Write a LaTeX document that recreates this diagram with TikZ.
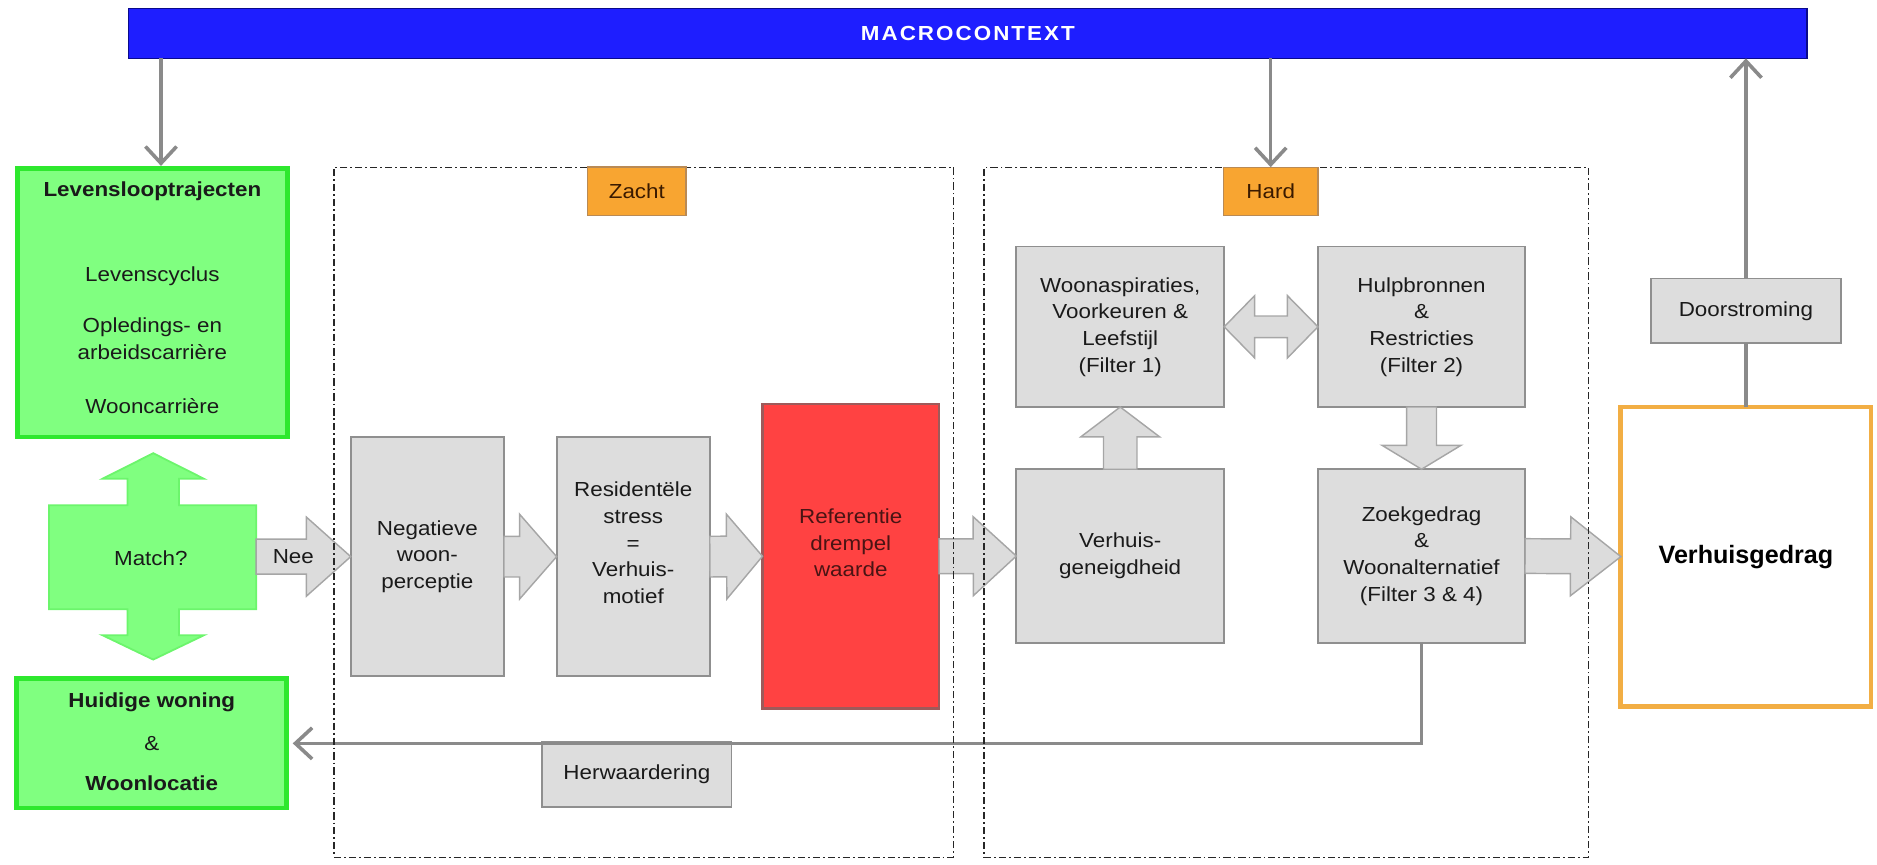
\documentclass[tikz,border=0pt]{standalone}
\usepackage{fontspec}
\setmainfont{Liberation Sans}[FakeStretch=1.1]
\newfontfamily\plainfont{Liberation Sans}
\newfontfamily\macrofont{Liberation Sans}[FakeStretch=1.1,LetterSpace=10]
\usetikzlibrary{arrows.meta,calc}
\definecolor{txtc}{HTML}{1A1A1A}
\definecolor{gfill}{HTML}{DDDDDD}
\definecolor{gborder}{HTML}{8F8F8F}
\definecolor{afill}{HTML}{DCDCDC}
\definecolor{aborder}{HTML}{A6A6A6}
\definecolor{connc}{HTML}{8A8A8A}
\definecolor{greenfill}{HTML}{80FF80}
\definecolor{greenborder}{HTML}{2EE82E}
\definecolor{crossborder}{HTML}{6CF56C}
\definecolor{redfill}{HTML}{FF4242}
\definecolor{redborder}{HTML}{9E5A5A}
\definecolor{reftxt}{HTML}{4A1414}
\definecolor{orangefill}{HTML}{F8A531}
\definecolor{orangeborder}{HTML}{B98A55}
\definecolor{tagtxt}{HTML}{3A1A00}
\definecolor{gedragborder}{HTML}{F2AE44}
\definecolor{bluefill}{HTML}{1E1EFF}
\definecolor{blueborder}{HTML}{0A0A8C}
\definecolor{zonec}{HTML}{262626}
\newcommand\blockarrow[5]{%
  \coordinate (ba-h) at ($(#2)!#3!(#1)$);
  \path[blockarrow] ($(#1)!#4!90:(#2)$) -- ($(ba-h)!#4!-90:(#1)$) -- ($(ba-h)!#5!-90:(#1)$) -- (#2) -- ($(ba-h)!#5!90:(#1)$) -- ($(ba-h)!#4!90:(#1)$) -- ($(#1)!#4!-90:(#2)$) -- cycle;}
\begin{document}
\begin{tikzpicture}[x=1pt,y=-1pt,
  every node/.style={inner sep=0pt,outer sep=0pt},
  txt/.style={font=\fontsize{17}{22.3}\selectfont,text=txtc,align=center},
  boldtxt/.style={txt,font=\fontsize{17}{22.3}\selectfont\bfseries},
  greybox/.style={txt,draw=gborder,fill=gfill,line width=1.5pt},
  redbox/.style={draw=redborder,fill=redfill,line width=2pt},
  greenbox/.style={draw=greenborder,fill=greenfill,line width=4pt},
  gedragbox/.style={draw=gedragborder,fill=white,line width=4pt,text=black,
    font=\plainfont\bfseries\fontsize{21}{24}\selectfont},
  tagbox/.style={draw=orangeborder,fill=orangefill,line width=1pt,text=tagtxt,
    font=\fontsize{17}{20}\selectfont},
  bluebar/.style={draw=blueborder,fill=bluefill,line width=1pt,text=white,
    font=\macrofont\bfseries\fontsize{17}{19}\selectfont},
  zone/.style={draw=zonec,line width=1pt,dash pattern=on 6pt off 2.5pt on 1.5pt off 2.5pt},
  blockarrow/.style={fill=afill,draw=aborder,line width=1.2pt,line join=miter},
  cross/.style={fill=greenfill,draw=crossborder,line width=1.5pt,line join=miter},
  conn/.style={draw=connc,line width=3pt,-{Straight Barb[length=14pt,width=26pt]}},
  connline/.style={draw=connc,line width=3pt}
]
\useasboundingbox (0,0) rectangle (1568,722);

% macro context bar
\node[bluebar,minimum width=1402pt,minimum height=41.7pt] (macro) at (808.5,27.9) {MACROCONTEXT};

% green boxes
\node[greenbox,minimum width=225.5pt,minimum height=224.4pt] (lev) at (127.3,252.8) {};
\node[boldtxt] (lev-t1) at (127.3,160) {Levenslooptrajecten};
\node[txt] (lev-t2) at (127.3,231) {Levenscyclus};
\node[txt] (lev-t3) at (127.3,273) {Opledings- en};
\node[txt] (lev-t4) at (127.3,294) {arbeidscarrière};
\node[txt] (lev-t5) at (127.3,339) {Wooncarrière};

\node[greenbox,minimum width=225.5pt,minimum height=108pt] (huid) at (126.8,621) {};
\node[boldtxt] (huid-t1) at (126.8,587) {Huidige woning};
\node[txt] (huid-t2) at (126.8,621) {\&};
\node[boldtxt] (huid-t3) at (126.8,654) {Woonlocatie};

% cross "Match?"
\path[cross] (128,378.6) -- (170.5,400) -- (149.5,400) -- (149.5,422) -- (214,422)
  -- (214,509) -- (149.5,509) -- (149.5,530.6) -- (170.5,530.6) -- (128,551)
  -- (85.5,530.6) -- (106.5,530.6) -- (106.5,509) -- (41,509) -- (41,422)
  -- (106.5,422) -- (106.5,400) -- (85.5,400) -- cycle;
\node[txt] (match) at (126,466) {Match?};
\coordinate (crossE) at (214,465);

% grey boxes
\node[greybox,minimum width=128pt,minimum height=200pt] (neg) at (357,465) {Negatieve\\woon-\\perceptie};
\node[greybox,minimum width=128pt,minimum height=200pt] (res) at (529,465) {};
\node[txt] (res-t) at (529,453.5) {Residentële\\stress\\=\\Verhuis-\\motief};
\node[redbox,minimum width=147.5pt,minimum height=254.5pt] (ref) at (710.7,464.7) {};
\node[txt,text=reftxt] (ref-t) at (710.7,453.6) {Referentie\\drempel\\waarde};
\node[greybox,minimum width=173.6pt,minimum height=145pt] (verh) at (935.8,464.5) {Verhuis-\\geneigdheid};
\node[greybox,minimum width=173.6pt,minimum height=134pt] (woon) at (935.8,273) {Woonaspiraties,\\Voorkeuren \&\\Leefstijl\\(Filter 1)};
\node[greybox,minimum width=173pt,minimum height=134pt] (hulp) at (1187.5,273) {Hulpbronnen\\\&\\Restricties\\(Filter 2)};
\node[greybox,minimum width=173pt,minimum height=145pt] (zoek) at (1187.5,464.5) {Zoekgedrag\\\&\\Woonalternatief\\(Filter 3 \& 4)};
\node[gedragbox,minimum width=209pt,minimum height=250pt] (gedrag) at (1458.5,465) {Verhuisgedrag};
\node[greybox,minimum width=159pt,minimum height=54pt] (door) at (1458.5,259.6) {Doorstroming};
\node[greybox,minimum width=158pt,minimum height=54pt] (herw) at (532,647) {Herwaardering};

% block arrows
\blockarrow{crossE}{neg.west}{37pt}{14.6pt}{33pt}
\node[txt] (nee) at (245,465) {Nee};
\blockarrow{neg.east}{res.west}{31pt}{17pt}{35.5pt}
\blockarrow{res.east}{ref.west}{30pt}{17pt}{35.5pt}
\blockarrow{ref.east}{verh.west}{36pt}{14.5pt}{33pt}
\blockarrow{verh.north}{woon.south}{25pt}{14pt}{33pt}
\blockarrow{hulp.south}{zoek.north}{20pt}{12.5pt}{33pt}
\blockarrow{zoek.east}{gedrag.west}{42pt}{14.5pt}{33pt}
\coordinate (da1) at ($(woon.east)!25.5pt!(hulp.west)$);
\coordinate (da2) at ($(hulp.west)!25.5pt!(woon.east)$);
\path[blockarrow] (woon.east) -- ($(da1)+(0,-26)$) -- ($(da1)+(0,-9)$) -- ($(da2)+(0,-9)$)
  -- ($(da2)+(0,-26)$) -- (hulp.west) -- ($(da2)+(0,26)$) -- ($(da2)+(0,9)$)
  -- ($(da1)+(0,9)$) -- ($(da1)+(0,26)$) -- cycle;

% line connectors
\draw[conn] ([xshift=7.2pt]lev.north |- macro.south) -- ([xshift=7.2pt,yshift=2pt]lev.north);
\draw[connline] (gedrag.north) -- (door.south);
\draw[conn] (door.north) -- (door.north |- macro.south);
\draw[conn] (zoek.south) |- ([xshift=5pt]huid.east);

% zones
\node[zone,minimum width=517.4pt,minimum height=576.3pt] (zachtzone) at (537.7,427.85) {};
\node[zone,minimum width=505pt,minimum height=576.3pt] (hardzone) at (1074.5,427.85) {};
\node[tagbox,minimum width=82pt,minimum height=40.5pt] (zacht) at (532,159.7) {Zacht};
\node[tagbox,minimum width=79pt,minimum height=40.5pt] (hard) at (1061.5,159.9) {Hard};
\draw[conn] (hard.north |- macro.south) -- (hard.north);
\end{tikzpicture}
\end{document}
